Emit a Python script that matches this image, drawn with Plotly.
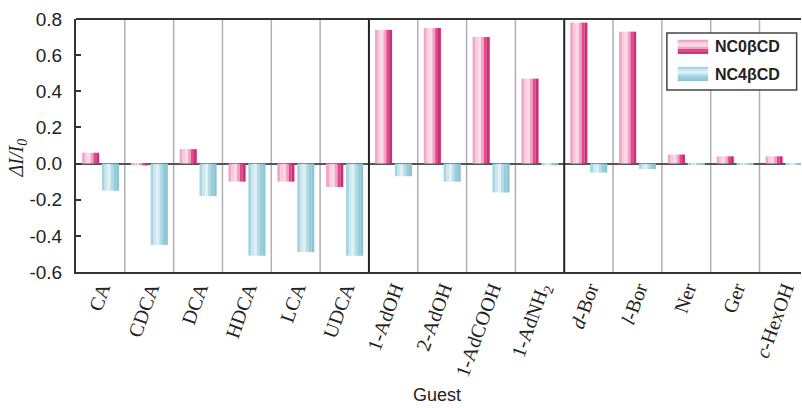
import plotly.graph_objects as go

categories = ["CA", "CDCA", "DCA", "HDCA", "LCA", "UDCA",
              "1-AdOH", "2-AdOH", "1-AdCOOH", "1-AdNH<sub>2</sub>",
              "<i>d</i>-Bor", "<i>l</i>-Bor", "Ner", "Ger", "<i>c</i>-HexOH"]
nc0 = [0.06, -0.01, 0.08, -0.10, -0.10, -0.13,
       0.74, 0.75, 0.70, 0.47,
       0.78, 0.73, 0.05, 0.04, 0.04]
nc4 = [-0.15, -0.45, -0.18, -0.51, -0.49, -0.51,
       -0.07, -0.10, -0.16, -0.01,
       -0.05, -0.03, -0.005, -0.003, -0.003]
group_breaks = [6, 10]
y_tick_vals = [-0.6, -0.4, -0.2, 0.0, 0.2, 0.4, 0.6, 0.8]
y_tick_text = ["-0.6", "-0.4", "-0.2", "0.0", "0.2", "0.4", "0.6", "0.8"]

pink_shades = ["#f1a6c6", "#f9cadd", "#fbd9e6", "#f0a3c3", "#dc4a8c", "#d02c74"]
blue_shades = ["#a9d5e1", "#cbe7ef", "#e0f1f6", "#b5dce6", "#97cddb", "#8cc6d5"]

xi = list(range(len(categories)))
fig = go.Figure()

bar_w = 0.35
n_sl = len(pink_shades)
sw = bar_w / n_sl
for series, shades, start in [(nc0, pink_shades, -0.377), (nc4, blue_shades, 0.03)]:
    for k, c in enumerate(shades):
        fig.add_trace(go.Bar(
            x=xi, y=series, offset=start + k * sw, width=sw * 1.02,
            marker=dict(color=c, line=dict(width=0)),
            showlegend=False, hoverinfo="skip"))

shapes = []
for i in range(1, len(categories)):
    thick = i in group_breaks
    shapes.append(dict(type="line", xref="x", yref="paper", x0=i - 0.5, x1=i - 0.5,
                       y0=0, y1=1, layer="below" if not thick else "above",
                       line=dict(color="#222" if thick else "#b0b0b0", width=2 if thick else 1.5)))
shapes.append(dict(type="line", xref="paper", yref="paper", x0=0, x1=1, y0=1, y1=1,
                   line=dict(color="#333", width=2)))

shapes.append(dict(type="rect", xref="paper", yref="paper", x0=0.815, x1=0.994, y0=0.719, y1=0.945,
                   line=dict(color="#444", width=1.5), fillcolor="white"))
annotations = []
for (ytop, ybot), shades, name in [((0.917, 0.862), pink_shades, "NC0βCD"),
                                    ((0.810, 0.755), blue_shades, "NC4βCD")]:
    h = (ytop - ybot) / len(shades)
    for k, c in enumerate(shades):
        shapes.append(dict(type="rect", xref="paper", yref="paper", x0=0.830, x1=0.872,
                           y0=ytop - (k + 1) * h, y1=ytop - k * h + 0.001,
                           line=dict(width=0), fillcolor=c))
    annotations.append(dict(xref="paper", yref="paper", x=0.879, y=(ytop + ybot) / 2,
                            text="<b>" + name + "</b>", showarrow=False, xanchor="left",
                            yanchor="middle",
                            font=dict(family="Liberation Sans, Arial", size=16, color="#222")))

annotations.append(dict(xref="paper", yref="paper", x=-0.081, y=0.45,
                        text="<i>ΔI/I<sub>0</sub></i>", showarrow=False, textangle=-90,
                        xanchor="center", yanchor="middle",
                        font=dict(family="Liberation Serif, Times New Roman", size=20, color="#222")))
annotations.append(dict(xref="paper", yref="paper", x=0.498, y=-0.486,
                        text="Guest", showarrow=False, xanchor="center", yanchor="middle",
                        font=dict(family="Liberation Sans, Arial", size=18, color="#222")))

fig.update_layout(
    width=802, height=408,
    margin=dict(l=76, r=1, t=19, b=136, autoexpand=False),
    paper_bgcolor="white", plot_bgcolor="white",
    barmode="overlay",
    showlegend=False,
    shapes=shapes, annotations=annotations,
    xaxis=dict(range=[-0.5, 14.35], tickmode="array", tickvals=xi, ticktext=categories,
               tickangle=-70, showgrid=False, zeroline=False, showline=True,
               linecolor="#333", linewidth=2, ticks="", automargin=False,
               ticklabelshift=1, ticklabelstandoff=-5,
               tickfont=dict(family="Liberation Serif, Times New Roman", size=20, color="#222")),
    yaxis=dict(range=[-0.6, 0.8], tickmode="array", tickvals=y_tick_vals, ticktext=y_tick_text,
               showgrid=False, automargin=False,
               zeroline=True, zerolinecolor="#555", zerolinewidth=1.5,
               showline=True, linecolor="#333", linewidth=2,
               ticks="inside", ticklen=5, tickwidth=1.5, tickcolor="#333",
               ticklabelstandoff=8,
               tickfont=dict(family="Liberation Sans, Arial", size=19, color="#222")),
)

fig.write_html("out.html", config={"displayModeBar": False},
               post_script="document.body.style.margin='0';document.body.style.overflow='hidden';")
